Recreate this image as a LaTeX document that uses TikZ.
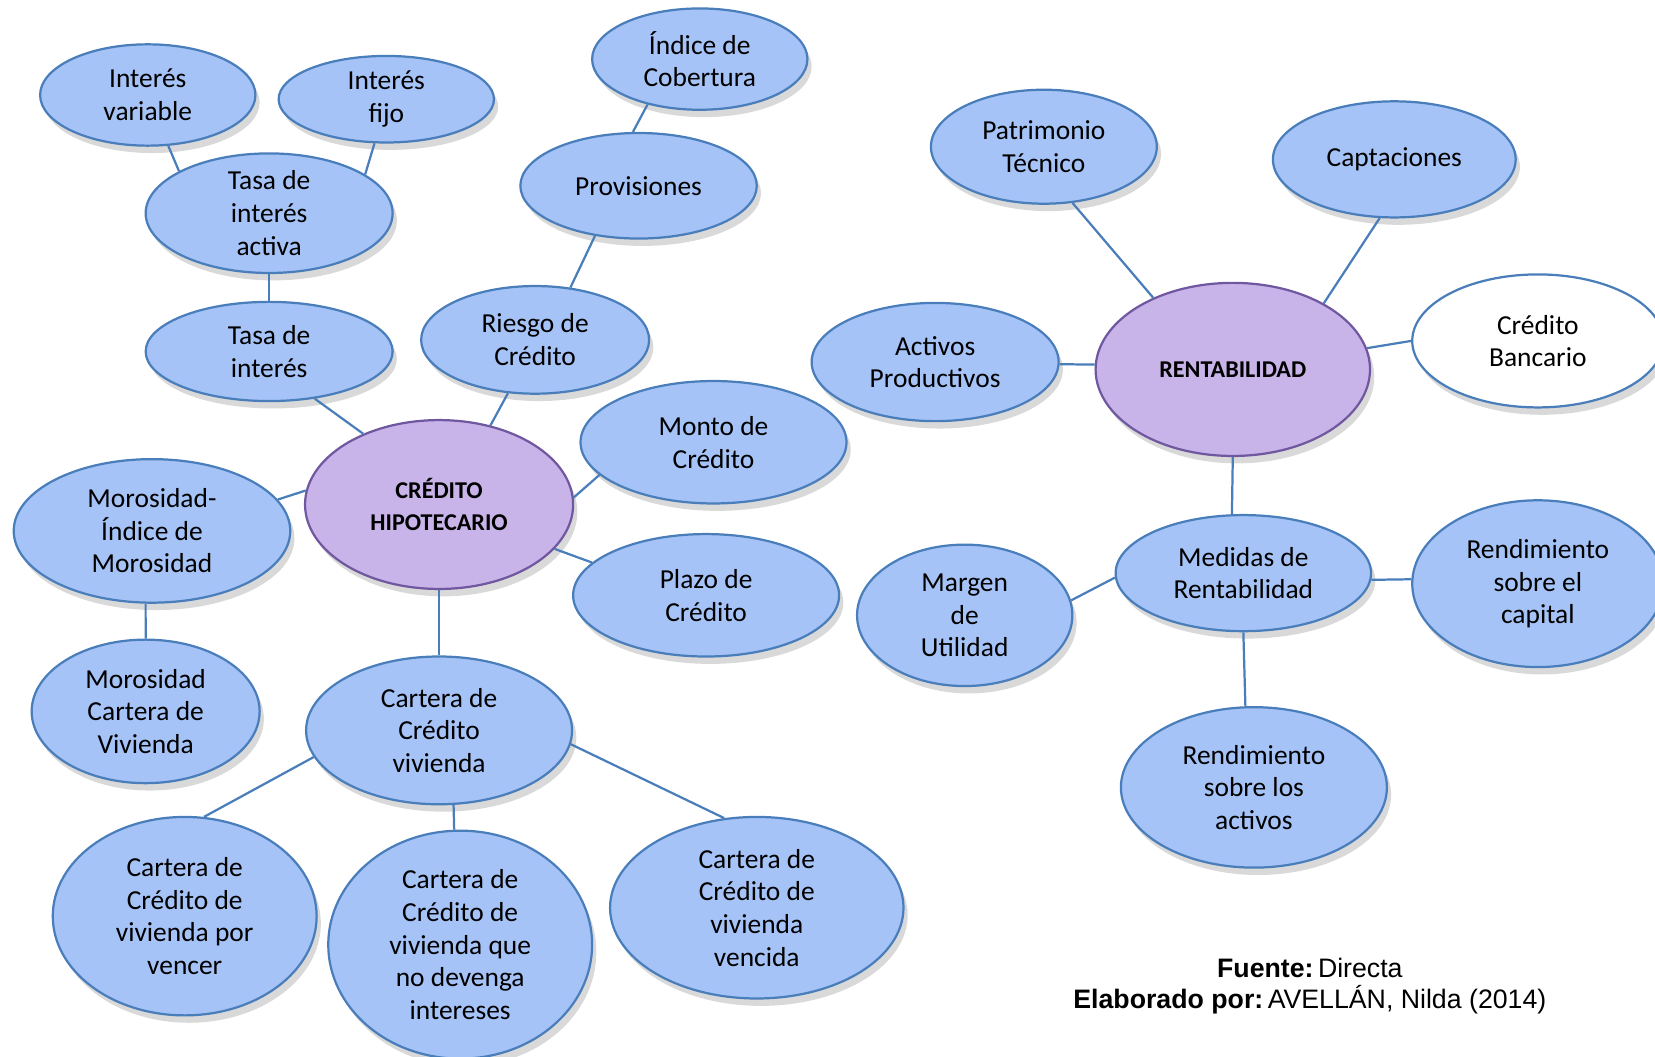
\documentclass[tikz,border=0pt]{standalone}
\usepackage{fontspec}
\setmainfont{Carlito}
\newfontfamily\arialfont{Liberation Sans}
\usetikzlibrary{shapes.geometric,shadows}
\definecolor{azulclaro}{RGB}{165,195,247}
\definecolor{bordeazul}{RGB}{74,126,187}
\definecolor{lila}{RGB}{200,180,232}
\definecolor{bordelila}{RGB}{112,88,160}
\tikzset{
  bola/.style n args={2}{ellipse, draw=bordeazul, fill=azulclaro, line width=0.6pt,
    minimum width=#1*0.2mm, minimum height=#2*0.2mm, inner sep=0pt, align=center,
    font=\fontsize{7.4}{8.8}\selectfont,
    drop shadow={shadow xshift=0.4mm, shadow yshift=-0.7mm, opacity=0.3}},
  centro/.style n args={2}{bola={#1}{#2}, draw=bordelila, fill=lila,
    font=\fontsize{6.5}{8.6}\selectfont\bfseries},
  linea/.style={draw=bordeazul, line width=0.6pt}
}
\begin{document}
\begin{tikzpicture}[x=0.1mm, y=-0.1mm]
\useasboundingbox (0,0) rectangle (1568,1001);
% rama izquierda: credito hipotecario
\node[bola={102}{48}] (ivar) at (140,90) {Interés\\variable};
\node[bola={102}{41}] (ifijo) at (366,94) {Interés\\fijo};
\node[bola={102}{48}] (indice) at (663,56) {Índice de\\Cobertura};
\node[bola={117}{48}] (tactiva) at (255,202) {Tasa de\\interés\\activa};
\node[bola={112}{50}] (prov) at (605,176) {Provisiones};
\node[bola={117}{47}] (tasa) at (255,333) {Tasa de\\interés};
\node[bola={108}{51}] (riesgo) at (507,322) {Riesgo de\\Crédito};
\node[bola={126}{58}] (monto) at (676,419) {Monto de\\Crédito};
\node[centro={127}{80}] (credito) at (416,478) {CRÉDITO\\HIPOTECARIO};
\node[bola={131}{68}] (moro) at (144,503) {Morosidad-\\Índice de\\Morosidad};
\node[bola={126}{58}] (plazo) at (669,564) {Plazo de\\Crédito};
\node[bola={108}{68}] (morocart) at (138,674) {Morosidad\\Cartera de\\Vivienda};
\node[bola={126}{70}] (cartera) at (416,692) {Cartera de\\Crédito\\vivienda};
\node[bola={125}{94}] (vencer) at (175,868) {Cartera de\\Crédito de\\vivienda por\\vencer};
\node[bola={125}{108}] (devenga) at (436,895) {Cartera de\\Crédito de\\vivienda que\\no devenga\\intereses};
\node[bola={139}{86}] (vencida) at (717,860) {Cartera de\\Crédito de\\vivienda\\vencida};
% rama derecha: rentabilidad
\node[bola={107}{54}] (patri) at (989,139) {Patrimonio\\Técnico};
\node[bola={115}{55}] (capta) at (1321,151) {Captaciones};
\node[bola={117}{56}] (activos) at (886,343) {Activos\\Productivos};
\node[centro={130}{82}] (rent) at (1168,350) {RENTABILIDAD};
\node[bola={119}{63}, fill=white] (bancario) at (1457,323) {Crédito\\Bancario};
\node[bola={121}{55}] (medidas) at (1178,543) {Medidas de\\Rentabilidad};
\node[bola={102}{67}] (margen) at (914,583) {Margen\\de\\Utilidad};
\node[bola={119}{79}] (rcapital) at (1457,553) {Rendimiento\\sobre el\\capital};
\node[bola={126}{76}] (ractivos) at (1188,746) {Rendimiento\\sobre los\\activos};
% conectores
\draw[linea] (ivar.-68) -- (tactiva.155);
\draw[linea] (ifijo.-105) -- (tactiva.22);
\draw[linea] (indice.-139) -- (prov.96);
\draw[linea] (prov.-131) -- (riesgo.56);
\draw[linea] (tactiva.south) -- (tasa.north);
\draw[linea] (tasa.-46) -- (credito.137);
\draw[linea] (riesgo.-117) -- (credito.57);
\draw[linea] (monto.-164) -- (credito.3);
\draw[linea] (credito.-21) -- (plazo.164);
\draw[linea] (moro.14) -- (credito.174);
\draw[linea] (moro.-95) -- (morocart.north);
\draw[linea] (credito.south) -- (cartera.north);
\draw[linea] (cartera.-168) -- (vencer.79);
\draw[linea] (cartera.-79) -- (devenga.93);
\draw[linea] (cartera.-6) -- (vencida.110);
\draw[linea] (patri.-63) -- (rent.138);
\draw[linea] (capta.-104) -- (rent.36);
\draw[linea] (activos.-1.7) -- (rent.178.7);
\draw[linea] (rent.9) -- (bancario.west);
\draw[linea] (rent.south) -- (medidas.101);
\draw[linea] (medidas.182) -- (margen.8);
\draw[linea] (medidas.-3.3) -- (rcapital.178.5);
\draw[linea] (medidas.south) -- (ractivos.96);
% fuente
\node[align=center, font=\arialfont\fontsize{7.2}{8.3}\selectfont] (fuente) at (1241,934)
  {\textbf{Fuente:}\,Directa\\\textbf{Elaborado por:}\,AVELLÁN, Nilda (2014)};
\end{tikzpicture}
\end{document}
